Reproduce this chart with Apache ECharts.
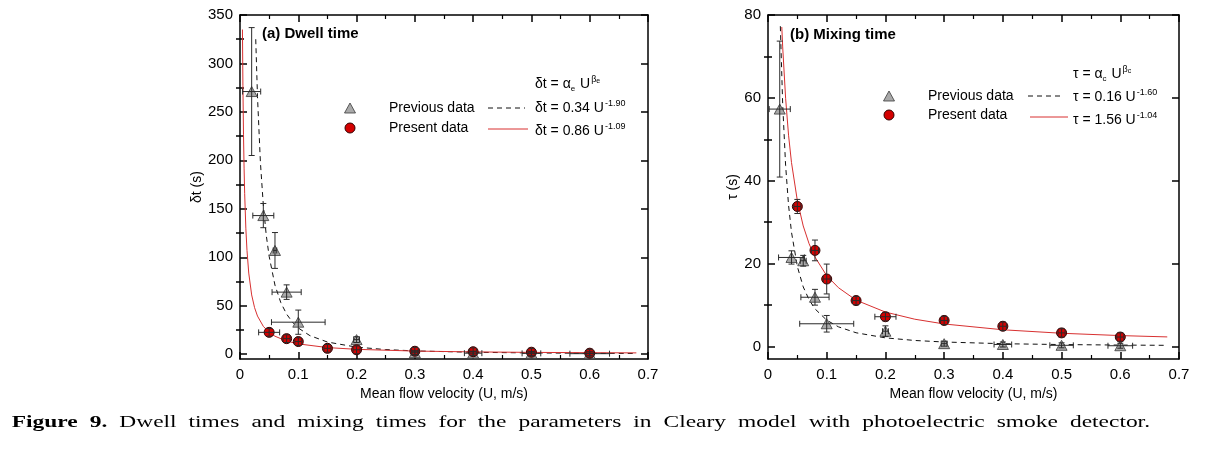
<!DOCTYPE html>
<html><head><meta charset="utf-8">
<script src="https://cdn.jsdelivr.net/npm/echarts@6/dist/echarts.min.js"></script>
<style>html,body{margin:0;padding:0;background:#fff}#c{width:1208px;height:452px}</style>
</head><body><div id="c"></div>
<script>
// ---------- data ----------
const xTickValues = [0, 0.1, 0.2, 0.3, 0.4, 0.5, 0.6, 0.7];
const dwellTicks = [0, 50, 100, 150, 200, 250, 300, 350];
const dwellMinorTicks = [25, 75, 125, 175, 225, 275, 325];
const mixTicks = [0, 20, 40, 60, 80];
const mixMinorTicks = [10, 30, 50, 70];

// (a) Dwell time
const dwellPrevU    = [0.02, 0.04, 0.06, 0.08, 0.10, 0.20, 0.30, 0.40, 0.50, 0.60];
const dwellPrevT    = [271, 143, 107, 64, 33, 15, 1.5, 1.0, 0.8, 0.5];
const dwellPrevUErr = [0.0155, 0.018, 0.003, 0.025, 0.046, 0.005, 0.005, 0.015, 0.016, 0.034];
const dwellPrevTErr = [66, 12.5, 18.5, 7.5, 12.5, 3, 2, 2, 2, 2];

const dwellPresU    = [0.05, 0.08, 0.10, 0.15, 0.20, 0.30, 0.40, 0.50, 0.60];
const dwellPresT    = [22.5, 16, 13, 6, 4.5, 3, 2.5, 2, 1];
const dwellPresUErr = [0.018, 0.006, 0.006, 0.006, 0.006, 0.006, 0.006, 0.006, 0.006];
const dwellPresTErr = [4, 4, 4, 4, 4, 4, 4, 4, 4];

// fitted curves
const dwellFitPrevU = [0.027, 0.03, 0.035, 0.04, 0.045, 0.05, 0.06, 0.07, 0.08, 0.09, 0.10, 0.12, 0.15, 0.20, 0.25, 0.30, 0.40, 0.50, 0.60, 0.68];
const dwellFitPrevT = [325, 266, 198, 154, 123, 101, 71.2, 53.2, 41.3, 33.0, 27.0, 19.1, 12.5, 7.24, 4.73, 3.35, 1.94, 1.27, 0.90, 0.71];
const dwellFitPresU = [0.0042, 0.005, 0.006, 0.007, 0.008, 0.01, 0.012, 0.015, 0.02, 0.025, 0.03, 0.04, 0.05, 0.06, 0.08, 0.10, 0.15, 0.20, 0.30, 0.40, 0.50, 0.60, 0.68];
const dwellFitPresT = [335, 277, 227, 192, 166, 130, 107, 83.7, 61.1, 48.0, 39.3, 28.7, 22.5, 18.5, 13.5, 10.6, 6.80, 4.97, 3.19, 2.33, 1.83, 1.50, 1.31];

// (b) Mixing time
const mixPrevU    = [0.02, 0.04, 0.06, 0.08, 0.10, 0.20, 0.30, 0.40, 0.50, 0.60];
const mixPrevT    = [57.3, 21.5, 20.7, 11.9, 5.5, 3.7, 0.7, 0.5, 0.3, 0.2];
const mixPrevUErr = [0.018, 0.022, 0.005, 0.024, 0.046, 0.005, 0.005, 0.015, 0.02, 0.021];
const mixPrevTErr = [16.4, 1.6, 1.3, 1.9, 2.0, 1.3, 0.6, 0.6, 0.6, 0.6];

const mixPresU    = [0.05, 0.08, 0.10, 0.15, 0.20, 0.30, 0.40, 0.50, 0.60];
const mixPresT    = [33.8, 23.2, 16.3, 11.1, 7.2, 6.3, 4.9, 3.3, 2.3];
const mixPresUErr = [0.006, 0.006, 0.006, 0.006, 0.018, 0.006, 0.006, 0.006, 0.006];
const mixPresTErr = [1.7, 2.5, 3.6, 1, 1, 1, 1, 1, 1];

const mixFitPrevU = [0.021, 0.025, 0.03, 0.035, 0.04, 0.05, 0.06, 0.07, 0.08, 0.10, 0.12, 0.15, 0.20, 0.25, 0.30, 0.40, 0.50, 0.60, 0.68];
const mixFitPrevT = [77.3, 58.5, 43.7, 34.1, 27.6, 19.3, 14.4, 11.3, 9.10, 6.37, 4.76, 3.33, 2.10, 1.47, 1.10, 0.69, 0.485, 0.36, 0.30];
const mixFitPresU = [0.0235, 0.025, 0.03, 0.035, 0.04, 0.05, 0.06, 0.07, 0.08, 0.10, 0.12, 0.15, 0.20, 0.25, 0.30, 0.40, 0.50, 0.60, 0.68];
const mixFitPresT = [77.1, 72.3, 59.9, 51.0, 44.4, 35.2, 29.1, 24.8, 21.6, 17.1, 14.2, 11.2, 8.32, 6.60, 5.45, 4.05, 3.21, 2.65, 2.33];

const captionWords = ['Figure', '9.', 'Dwell', 'times', 'and', 'mixing', 'times', 'for', 'the', 'parameters', 'in', 'Cleary', 'model', 'with', 'photoelectric', 'smoke', 'detector.'];
const captionBoldCount = 2;

// ---------- helpers ----------
const zip = (a, b) => a.map((v, i) => [v, b[i]]);
const zip4 = (a, b, c, d) => a.map((v, i) => [v, b[i], c[i], d[i]]);
const SANS = 'Liberation Sans, Arial, sans-serif';
const SERIF = 'Liberation Serif, Times New Roman, serif';
const RED = '#d40000';
const TRI_FILL = '#a9a9a9';

function errRender(params, api) {
  const x = api.value(0), y = api.value(1), xe = api.value(2), ye = api.value(3);
  const t = api.coord([x, y + ye]), b = api.coord([x, y - ye]);
  const l = api.coord([x - xe, y]), r = api.coord([x + xe, y]);
  const cap = 3;
  const style = { stroke: '#2a2a2a', lineWidth: 1 };
  const ch = [];
  const ln = (x1, y1, x2, y2) => ch.push({ type: 'line', shape: { x1, y1, x2, y2 }, style });
  if (ye > 0) {
    ln(t[0], t[1], b[0], b[1]);
    ln(t[0] - cap, t[1], t[0] + cap, t[1]);
    ln(b[0] - cap, b[1], b[0] + cap, b[1]);
  }
  if (xe > 0) {
    ln(l[0], l[1], r[0], r[1]);
    ln(l[0], l[1] - cap, l[0], l[1] + cap);
    ln(r[0], r[1] - cap, r[0], r[1] + cap);
  }
  return { type: 'group', children: ch };
}

const axisLine = { show: true, onZero: false, lineStyle: { color: '#000', width: 1.5 } };
function xAxes(grid) {
  const base = {
    type: 'value', gridIndex: grid, min: 0, max: 0.7, interval: 0.1,
    axisLine, splitLine: { show: false },
    axisTick: { inside: true, length: 7, lineStyle: { color: '#000', width: 1.5 } },
    minorTick: { show: true, splitNumber: 2, length: 4, lineStyle: { color: '#000', width: 1.2 } }
  };
  return [
    Object.assign({}, base, {
      position: 'bottom',
      name: 'Mean flow velocity (U, m/s)', nameLocation: 'middle', nameGap: 25,
      nameTextStyle: { fontFamily: SANS, fontSize: 14, color: '#000' },
      axisLabel: { margin: 8, fontFamily: SANS, fontSize: 15, color: '#000',
        formatter: v => (xTickValues.indexOf(+v.toFixed(2)) >= 0 ? String(+v.toFixed(2)) : '') }
    }),
    Object.assign({}, base, { position: 'top', axisLabel: { show: false } })
  ];
}
function yAxes(grid, min, max, major, minor, name, gap) {
  const mk = (pos, vals, len, labels) => ({
    type: 'value', gridIndex: grid, position: pos, min, max,
    axisLine: labels !== null ? axisLine : { show: false },
    splitLine: { show: false },
    axisTick: { show: true, inside: true, length: len, customValues: vals, lineStyle: { color: '#000', width: 1.5 } },
    axisLabel: labels ? { show: true, customValues: vals, margin: 7, fontFamily: SANS, fontSize: 15, color: '#000' } : { show: false }
  });
  const left = mk('left', major, 7, true);
  left.name = name; left.nameLocation = 'middle'; left.nameGap = gap; left.nameRotate = 90;
  left.nameTextStyle = { fontFamily: SANS, fontSize: 14, color: '#000' };
  return [left, mk('left', minor, 4, null), mk('right', major, 7, false), mk('right', minor, 4, null)];
}

function panelSeries(xi, yi, fitPrevU, fitPrevT, fitPresU, fitPresT, prevU, prevT, prevUE, prevTE, presU, presT, presUE, presTE) {
  return [
    { type: 'line', xAxisIndex: xi, yAxisIndex: yi, data: zip(fitPrevU, fitPrevT), showSymbol: false, smooth: false,
      lineStyle: { color: '#111', width: 1, type: [5, 4] }, z: 2, silent: true },
    { type: 'line', xAxisIndex: xi, yAxisIndex: yi, data: zip(fitPresU, fitPresT), showSymbol: false, smooth: false,
      lineStyle: { color: '#d83030', width: 1 }, z: 2, silent: true },
    { type: 'scatter', name: 'Previous data', xAxisIndex: xi, yAxisIndex: yi, data: zip(prevU, prevT),
      symbol: 'triangle', symbolSize: [11, 10],
      itemStyle: { color: TRI_FILL, borderColor: '#3a3a3a', borderWidth: 0.8, opacity: 1 }, z: 3 },
    { type: 'scatter', name: 'Present data', xAxisIndex: xi, yAxisIndex: yi, data: zip(presU, presT),
      symbol: 'circle', symbolSize: 10,
      itemStyle: { color: RED, borderColor: '#300', borderWidth: 1, opacity: 1 }, z: 3 },
    { type: 'custom', xAxisIndex: xi, yAxisIndex: yi, data: zip4(prevU, prevT, prevUE, prevTE),
      encode: { x: 0, y: 1 }, renderItem: errRender, z: 4, silent: true },
    { type: 'custom', xAxisIndex: xi, yAxisIndex: yi, data: zip4(presU, presT, presUE, presTE),
      encode: { x: 0, y: 1 }, renderItem: errRender, z: 4, silent: true }
  ];
}

// ---------- legend-like graphics ----------
const richF = {
  m: { fontFamily: SANS, fontSize: 14, color: '#000', lineHeight: 18 },
  s: { fontFamily: SANS, fontSize: 9, color: '#000', verticalAlign: 'top', padding: [0, 0, 0, 1] },
  sb: { fontFamily: SANS, fontSize: 8, color: '#000', verticalAlign: 'bottom', padding: [0, 1, 0, 0] },
  ss: { fontFamily: SANS, fontSize: 7, color: '#000', verticalAlign: 'top', padding: [3, 0, 0, 0] }
};
function txt(x, y, text, extra) {
  return { type: 'text', x, y, z: 10, style: Object.assign({ text, fontFamily: SANS, fontSize: 14, fill: '#000', verticalAlign: 'middle', align: 'left' }, extra || {}) };
}
function rtxt(x, y, text) {
  return { type: 'text', x, y, z: 10, style: { text, rich: richF, verticalAlign: 'middle', align: 'left' } };
}
function tri(cx, cy) {
  return { type: 'polygon', z: 10, shape: { points: [[cx, cy - 5], [cx + 5.5, cy + 5], [cx - 5.5, cy + 5]] },
    style: { fill: TRI_FILL, stroke: '#3a3a3a', lineWidth: 0.8 } };
}
function circ(cx, cy) {
  return { type: 'circle', z: 10, shape: { cx, cy, r: 5 }, style: { fill: RED, stroke: '#300', lineWidth: 1 } };
}
function seg(x1, y1, x2, y2, dashed) {
  return { type: 'line', z: 10, shape: { x1, y1, x2, y2 },
    style: dashed ? { stroke: '#111', lineWidth: 1, lineDash: [5, 4] } : { stroke: '#d83030', lineWidth: 1 } };
}

const graphics = [
  txt(262, 34, '(a) Dwell time', { fontWeight: 'bold', fontSize: 15 }),
  rtxt(535, 84, '{m|δt = α}{sb|e}{m| U}{s|β}{ss|e}'),
  tri(350, 108), txt(389, 108, 'Previous data'), seg(488, 108, 525, 108, true), rtxt(535, 108, '{m|δt = 0.34 U}{s|-1.90}'),
  circ(350, 128), txt(389, 128, 'Present data'), seg(488, 129, 528, 129, false), rtxt(535, 131, '{m|δt = 0.86 U}{s|-1.09}'),

  txt(790, 35, '(b) Mixing time', { fontWeight: 'bold', fontSize: 15 }),
  rtxt(1073, 74, '{m|τ = α}{sb|c}{m| U}{s|β}{ss|c}'),
  tri(889, 96), txt(928, 96, 'Previous data'), seg(1028, 96, 1064, 96, true), rtxt(1073, 97, '{m|τ = 0.16 U}{s|-1.60}'),
  circ(889, 115), txt(928, 115, 'Present data'), seg(1030, 117, 1068, 117, false), rtxt(1073, 120, '{m|τ = 1.56 U}{s|-1.04}')
];

// caption: wide glyphs, ~12px word gaps, spanning the measured width
(function () {
  const ctx = document.createElement('canvas').getContext('2d');
  const fs = 17, x0 = 11.7, x1 = 1150, gapPx = 12;
  const widths = captionWords.map((w, i) => {
    ctx.font = (i < captionBoldCount ? 'bold ' : '') + fs + 'px "Liberation Serif"';
    return ctx.measureText(w).width;
  });
  const total = widths.reduce((a, b) => a + b, 0);
  const sx = (x1 - x0 - gapPx * (captionWords.length - 1)) / total;
  const gap = gapPx / sx;
  let cx = 0;
  const children = captionWords.map((w, i) => {
    const el = { type: 'text', x: cx, y: 0, style: { text: w, fontFamily: SERIF, fontSize: fs,
      fontWeight: i < captionBoldCount ? 'bold' : 'normal', fill: '#000', verticalAlign: 'middle', align: 'left' } };
    cx += widths[i] + gap;
    return el;
  });
  graphics.push({ type: 'group', x: x0, y: 423, scaleX: sx, children });
})();

const chart = echarts.init(document.getElementById('c'), null, { renderer: 'canvas' });
chart.setOption({
  animation: false,
  backgroundColor: '#fff',
  grid: [
    { left: 240, top: 15, width: 408, height: 344 },
    { left: 768, top: 15, width: 411, height: 344 }
  ],
  xAxis: [].concat(xAxes(0), xAxes(1)),
  yAxis: [].concat(
    yAxes(0, -5, 350, dwellTicks, dwellMinorTicks, 'δt (s)', 36),
    yAxes(1, -3, 80, mixTicks, mixMinorTicks, 'τ (s)', 28)
  ),
  series: [].concat(
    panelSeries(0, 0, dwellFitPrevU, dwellFitPrevT, dwellFitPresU, dwellFitPresT,
      dwellPrevU, dwellPrevT, dwellPrevUErr, dwellPrevTErr, dwellPresU, dwellPresT, dwellPresUErr, dwellPresTErr),
    panelSeries(2, 4, mixFitPrevU, mixFitPrevT, mixFitPresU, mixFitPresT,
      mixPrevU, mixPrevT, mixPrevUErr, mixPrevTErr, mixPresU, mixPresT, mixPresUErr, mixPresTErr)
  ),
  graphic: graphics
});
</script></body></html>
